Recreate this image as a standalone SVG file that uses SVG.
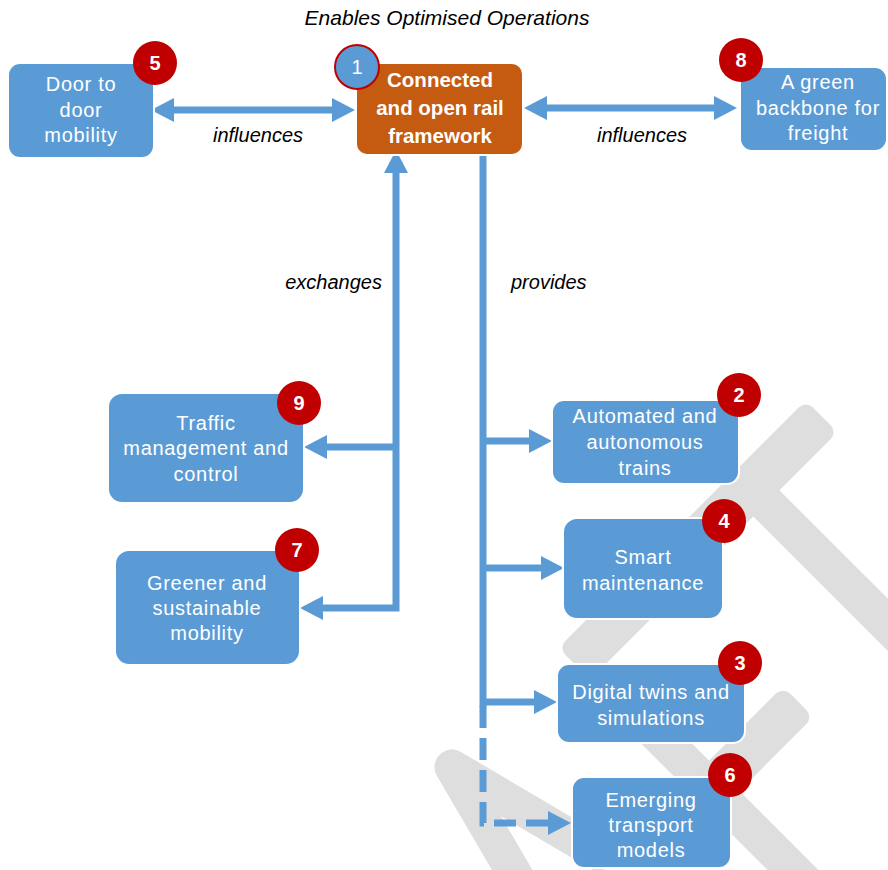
<svg xmlns="http://www.w3.org/2000/svg" width="888" height="870" viewBox="0 0 888 870">
<defs>
<style>
.wm{fill:#dedede}
.box{fill:#5b9bd5;stroke:#ffffff;stroke-width:2}
.core{fill:#c55a11;stroke:#ffffff;stroke-width:2}
.t{font-family:"Liberation Sans",Arial,sans-serif;font-size:20px;fill:#ffffff;text-anchor:middle;letter-spacing:0.7px}
.tb{font-family:"Liberation Sans",Arial,sans-serif;font-size:20.5px;font-weight:bold;fill:#ffffff;text-anchor:middle}
.badge{fill:#c00000}
.bt{font-family:"Liberation Sans",Arial,sans-serif;font-size:20px;font-weight:bold;fill:#ffffff;text-anchor:middle}
.lbl{font-family:"Liberation Sans",Arial,sans-serif;font-size:20px;font-style:italic;fill:#000000}
.ln{stroke:#5b9bd5;stroke-width:7;fill:none}
.dash{stroke-dasharray:22 10}
</style>
<marker id="ah" viewBox="0 0 23 24" refX="0" refY="12" markerWidth="23" markerHeight="24" markerUnits="userSpaceOnUse" orient="auto-start-reverse">
<path d="M0,0 L23,12 L0,24 Z" fill="#5b9bd5"/>
</marker>
</defs>

<g id="watermark">
<rect class="wm" transform="translate(698,540) rotate(-45)" x="-175" y="-22.5" width="350" height="45" rx="10"/>
<rect class="wm" transform="translate(750,487) rotate(45)" x="0" y="-18.5" width="300" height="37"/>
<rect class="wm" transform="translate(749,826) rotate(45)" x="-159" y="-18" width="318" height="36"/>
<rect class="wm" transform="translate(724,776) rotate(-45)" x="-105" y="-21.5" width="210" height="43" rx="10"/>
<polyline points="521,885 452,767 610,860" fill="none" stroke="#dedede" stroke-width="35" stroke-linejoin="round"/>
</g>

<text class="lbl" x="447" y="25" text-anchor="middle" style="font-size:21px">Enables Optimised Operations</text>

<g id="connectors">
<path class="ln" d="M174,110 H332" marker-start="url(#ah)" marker-end="url(#ah)"/>
<path class="ln" d="M547,108 H714" marker-start="url(#ah)" marker-end="url(#ah)"/>
<path class="ln" d="M396,173 V608 H323" marker-start="url(#ah)" marker-end="url(#ah)"/>
<path class="ln" d="M396,447 H327" marker-end="url(#ah)"/>
<path class="ln" d="M483,155 V707"/>
<path class="ln" d="M483,441 H529" marker-end="url(#ah)"/>
<path class="ln" d="M483,568 H541" marker-end="url(#ah)"/>
<path class="ln" d="M483,702 H534" marker-end="url(#ah)"/>
<path class="ln dash" d="M483,706 V823 H548" marker-end="url(#ah)"/>
<text class="lbl" x="258" y="142" text-anchor="middle">influences</text>
<text class="lbl" x="642" y="142" text-anchor="middle">influences</text>
<text class="lbl" x="382" y="289" text-anchor="end">exchanges</text>
<text class="lbl" x="511" y="289">provides</text>
</g>

<g id="node1">
<rect class="core" x="356" y="63" width="167" height="92" rx="11"/>
<text class="tb" x="440" y="87">Connected</text>
<text class="tb" x="440" y="115">and open rail</text>
<text class="tb" x="440" y="143">framework</text>
<circle cx="357" cy="67" r="22" fill="#5b9bd5" stroke="#c00000" stroke-width="2"/>
<text class="t" x="357" y="74" style="letter-spacing:0">1</text>
</g>

<g id="node5">
<rect class="box" x="8" y="63" width="146" height="95" rx="12"/>
<text class="t" x="81" y="91">Door to</text>
<text class="t" x="81" y="117">door</text>
<text class="t" x="81" y="142">mobility</text>
<circle class="badge" cx="155" cy="63" r="22"/>
<text class="bt" x="155" y="70">5</text>
</g>

<g id="node8">
<rect class="box" x="740" y="67" width="147" height="84" rx="12"/>
<text class="t" x="818" y="89">A green</text>
<text class="t" x="818" y="115">backbone for</text>
<text class="t" x="818" y="140">freight</text>
<circle class="badge" cx="741" cy="60" r="22"/>
<text class="bt" x="741" y="67">8</text>
</g>

<g id="node9">
<rect class="box" x="108" y="393" width="196" height="110" rx="14"/>
<text class="t" x="206" y="430">Traffic</text>
<text class="t" x="206" y="455">management and</text>
<text class="t" x="206" y="481">control</text>
<circle class="badge" cx="299" cy="403" r="22"/>
<text class="bt" x="299" y="410">9</text>
</g>

<g id="node7">
<rect class="box" x="115" y="550" width="185" height="115" rx="14"/>
<text class="t" x="207" y="590">Greener and</text>
<text class="t" x="207" y="615">sustainable</text>
<text class="t" x="207" y="640">mobility</text>
<circle class="badge" cx="297" cy="550" r="22"/>
<text class="bt" x="297" y="557">7</text>
</g>

<g id="node2">
<rect class="box" x="552" y="400" width="187" height="84" rx="12"/>
<text class="t" x="645" y="423">Automated and</text>
<text class="t" x="645" y="449">autonomous</text>
<text class="t" x="645" y="475">trains</text>
<circle class="badge" cx="739" cy="395" r="22"/>
<text class="bt" x="739" y="402">2</text>
</g>

<g id="node4">
<rect class="box" x="563" y="518" width="160" height="101" rx="14"/>
<text class="t" x="643" y="564">Smart</text>
<text class="t" x="643" y="590">maintenance</text>
<circle class="badge" cx="724" cy="521" r="22"/>
<text class="bt" x="724" y="528">4</text>
</g>

<g id="node3">
<rect class="box" x="557" y="664" width="188" height="79" rx="12"/>
<text class="t" x="651" y="699">Digital twins and</text>
<text class="t" x="651" y="725">simulations</text>
<circle class="badge" cx="740" cy="663" r="22"/>
<text class="bt" x="740" y="670">3</text>
</g>

<g id="node6">
<rect class="box" x="572" y="777" width="159" height="91" rx="12"/>
<text class="t" x="651" y="807">Emerging</text>
<text class="t" x="651" y="832">transport</text>
<text class="t" x="651" y="857">models</text>
<circle class="badge" cx="730" cy="775" r="22"/>
<text class="bt" x="730" y="782">6</text>
</g>
</svg>
